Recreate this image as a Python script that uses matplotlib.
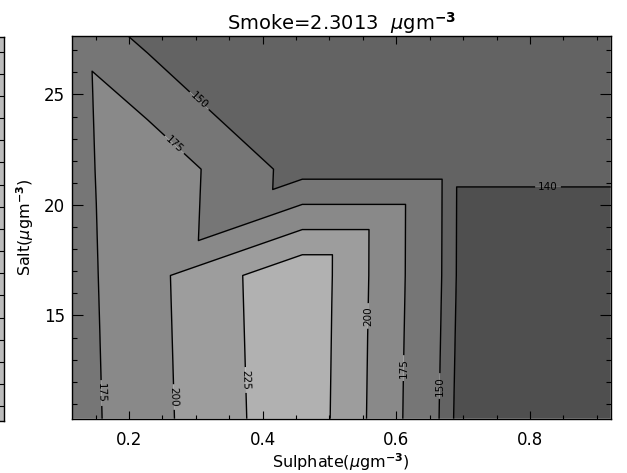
import matplotlib
matplotlib.use('Agg')
import matplotlib.pyplot as plt
import matplotlib.tri as mtri
import numpy as np
from matplotlib.ticker import MultipleLocator

# node positions of the (sulphate, salt) grid and the contoured field
sulphate = [0.1147, 0.2278, 0.4593, 0.6903, 0.9208]
salt = [27.66, 21.62, 16.81, 10.33]
z_top = [168.3, 143.5, 145.0, 144.0, 143.0]
z_upper = [166.9, 193.5, 140.05, 140.05, 140.05]
z_lower = [165.9, 192.1, 245.6, 139.75, 139.75]
z_bottom = [164.6, 190.7, 244.2, 137.9, 138.0]

levels = [140, 150, 175, 200, 225]
fill_colors = ['#4f4f4f', '#636363', '#767676', '#898989', '#9d9d9d', '#b1b1b1']

# where the contour labels sit, and which ones read bottom-to-top
label_pos = [(0.3047, 24.71), (0.2673, 22.71), (0.1566, 11.49), (0.2658, 11.31),
             (0.3721, 12.08), (0.5576, 14.98), (0.6115, 12.62), (0.6654, 11.81),
             (0.8270, 20.81)]
label_up = [False, False, False, False, False, True, True, True, False]

# which way each grid cell is split into triangles
# 'a': top-left to bottom-right, 'b': top-right to bottom-left
cell_split = [['a', 'a', 'a', 'a'],
              ['a', 'b', 'b', 'a'],
              ['a', 'a', 'a', 'a']]

ncol = len(sulphate)
xx, yy = np.meshgrid(sulphate, salt)
zz = np.array([z_top, z_upper, z_lower, z_bottom])


def node(r, c):
    return r * ncol + c


triangles = []
for r, row in enumerate(cell_split):
    for c, kind in enumerate(row):
        if kind == 'a':
            triangles.append([node(r, c), node(r + 1, c), node(r + 1, c + 1)])
            triangles.append([node(r, c), node(r, c + 1), node(r + 1, c + 1)])
        else:
            triangles.append([node(r, c), node(r, c + 1), node(r + 1, c)])
            triangles.append([node(r, c + 1), node(r + 1, c), node(r + 1, c + 1)])

tri = mtri.Triangulation(xx.ravel(), yy.ravel(), triangles)

W, H = 627, 473
fig = plt.figure(figsize=(W / 100, H / 100), dpi=100)

# sliver of the neighbouring panel at the far left
axl = fig.add_axes([-0.2, 1 - 421 / H, 0.2 + 3.5 / W, (421 - 37) / H])
axl.set_facecolor('#bcbcbc')
axl.set_ylim(10.33, 27.66)
axl.yaxis.set_major_locator(MultipleLocator(5))
axl.yaxis.set_minor_locator(MultipleLocator(1))
axl.tick_params(axis='y', which='both', direction='in', left=False, right=True,
                labelleft=False, width=0.8)
axl.tick_params(axis='y', which='major', length=7.8)
axl.tick_params(axis='y', which='minor', length=3.9)
axl.set_xticks([])
for s in axl.spines.values():
    s.set_linewidth(1.0)

ax = fig.add_axes([72 / W, 1 - 418.7 / H, (610.7 - 72) / W, (418.7 - 35.7) / H])

fill_levels = [100] + levels + [300]
ax.tricontourf(tri, zz.ravel(), levels=fill_levels, colors=fill_colors, antialiased=True)
cs = ax.tricontour(tri, zz.ravel(), levels=levels, colors='black', linewidths=1.0)

ax.set_xlim(0.1147, 0.9208)
ax.set_ylim(10.33, 27.66)

ax.clabel(cs, inline=True, fontsize=7.5, fmt='%d', manual=label_pos, inline_spacing=3)
for t, up in zip(cs.labelTexts, label_up):
    if up:
        t.set_rotation(90)

ax.xaxis.set_major_locator(MultipleLocator(0.2))
ax.xaxis.set_minor_locator(MultipleLocator(0.05))
ax.yaxis.set_major_locator(MultipleLocator(5))
ax.yaxis.set_minor_locator(MultipleLocator(1))
ax.set_xticks([0.2, 0.4, 0.6, 0.8])
ax.set_xticklabels(['0.2', '0.4', '0.6', '0.8'])

ax.tick_params(which='both', direction='in', top=True, right=True, width=0.8,
               labelsize=12)
ax.tick_params(axis='x', which='major', length=5.5, pad=8.5)
ax.tick_params(axis='x', which='minor', length=2.8)
ax.tick_params(axis='y', which='major', length=7.8, pad=5)
ax.tick_params(axis='y', which='minor', length=3.9)
for s in ax.spines.values():
    s.set_linewidth(1.0)

ax.set_title(r'Smoke=2.3013  $\mu$gm$^{\mathbf{-3}}$', fontsize=14, pad=3)
ax.set_xlabel(r'Sulphate($\mu$gm$^{\mathbf{-3}}$)', fontsize=11.5, labelpad=2)
ax.set_ylabel(r'Salt($\mu$gm$^{\mathbf{-3}}$)', fontsize=11.5, labelpad=6)

fig.savefig('out.png', dpi=100)
